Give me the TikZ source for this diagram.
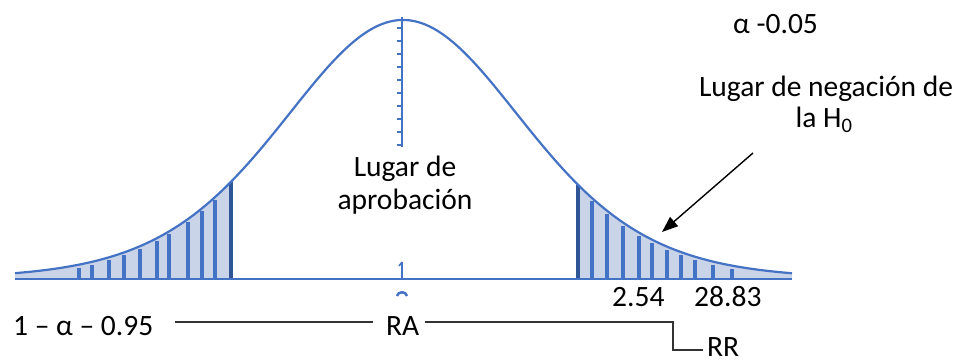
\documentclass[tikz,border=0pt]{standalone}
\usepackage{fontspec}
\setmainfont{Carlito}
\usetikzlibrary{arrows.meta}
\definecolor{curveblue}{RGB}{68,114,196}
\definecolor{darkblue}{RGB}{47,85,151}
\definecolor{tailfill}{RGB}{202,212,232}
\begin{document}
\begin{tikzpicture}[x=1pt,y=-1pt,
  declare function={cy(\t)=279-259*exp(-5.5*ln(1+((\t-403)/100)^2/15.171));},
  lbl/.style={font=\fontsize{29.5}{33}\selectfont, inner sep=0pt, text=black},
  curve/.style={draw=curveblue, line width=2.2pt},
  hatch/.style={draw=curveblue, line width=3.6pt},
  edgeline/.style={draw=darkblue, line width=4.5pt},
  conn/.style={draw=black!80, line width=1.3pt}]
\useasboundingbox (0,0) rectangle (964,363);
% tails
\fill[tailfill] plot[domain=15:231,samples=60] (\x,{cy(\x)}) -- (231,279) -- (15,279) -- cycle;
\fill[tailfill] plot[domain=577:792,samples=60] (\x,{cy(\x)}) -- (792,279) -- (577,279) -- cycle;
\foreach \h in {79,92,109,124,140,157,169,188,202,215}
  \draw[hatch] (\h,279) -- (\h,{cy(\h)+3});
\foreach \h in {592,607,623,639,652,667,681,695,713,732}
  \draw[hatch] (\h,279) -- (\h,{cy(\h)+3});
\draw[edgeline] (231,279) -- (231,{cy(231)});
\draw[edgeline] (578,279) -- (578,{cy(578)});
% curve and axis
\draw[curve] plot[domain=15:792,samples=200] (\x,{cy(\x)});
\draw[curve] (15,279) -- (792,279);
% centre line with ticks
\draw[curveblue, line width=2.6pt] (402,17) -- (402,147);
\foreach \t in {28,41,...,145}
  \draw[curveblue, line width=1.2pt] (397,\t) -- (402,\t);
\draw[curveblue, line width=2.6pt] (402,262) -- (402,279);
\draw[curveblue, line width=1.5pt] (399,266) -- (402,262);
\draw[curveblue, line width=2.5pt] (397,296) .. controls (398,291) and (406,291) .. (407,296);
% labels
\node[lbl, anchor=base west] (alpha) at (733,34) {α -0.05};
\node[lbl, anchor=base] (neg1) at (826,97) {Lugar de negación de};
\node[lbl, anchor=base] (neg2) at (824,128) {la H\textsubscript{0}};
\node[lbl, anchor=base] (apr1) at (405,177) {Lugar de};
\node[lbl, anchor=base] (apr2) at (405,210) {aprobación};
\node[lbl, anchor=base west] (v1) at (612,307) {2.54};
\node[lbl, anchor=base west] (v2) at (694,307) {28.83};
\node[lbl, anchor=base west] (conf) at (13,336) {1 – α – 0.95};
\node[lbl, anchor=base west] (ra) at (386,336) {RA};
\node[lbl, anchor=base west] (rr) at (707,356) {RR};
% connectors
\coordinate (lstart) at (175,322);
\coordinate (lend) at (373,322);
\coordinate (rstart) at (425,322);
\coordinate (rcorner) at (673,322);
\coordinate (rrend) at (703,350);
\draw[conn] (lstart) -- (lend);
\draw[conn] (rstart) -- (rcorner) |- (rrend);
\coordinate (atail) at (753,153);
\coordinate (ahead) at (662,232);
\draw[black, line width=1.4pt, -{Triangle[length=16pt,width=12pt]}] (atail) -- (ahead);
\end{tikzpicture}
\end{document}
